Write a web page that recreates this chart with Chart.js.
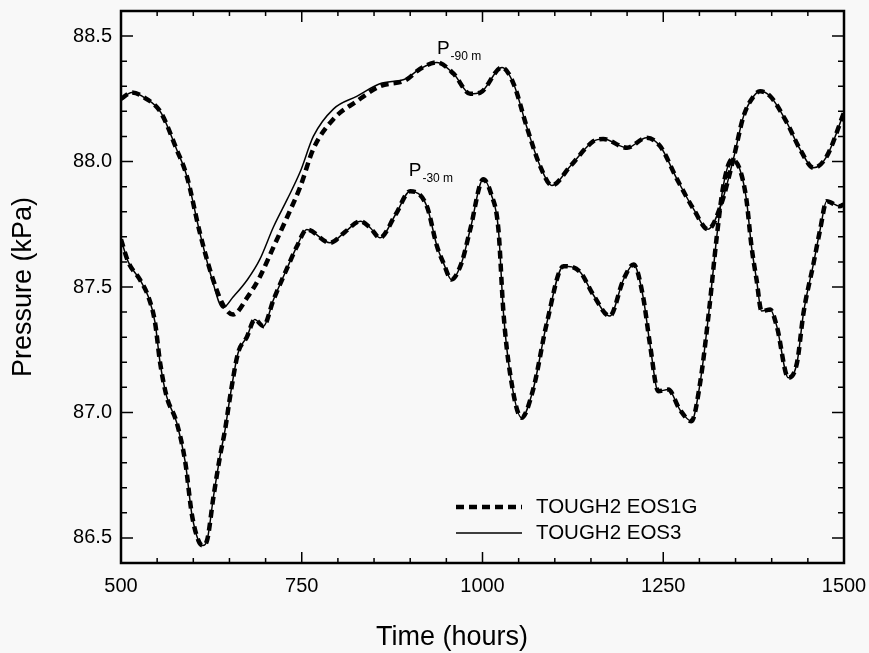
<!DOCTYPE html>
<html>
<head>
    <title>Pressure vs Time</title>
    <script src="https://cdn.jsdelivr.net/npm/chart.js"></script>
    <style>
        body {
            margin: 0;
            background: #f8f8f8;
        }
        canvas {
            display: block;
        }
    </style>
</head>
<body>
    <canvas id="pressureChart" width="869" height="653"></canvas>

    <script>
        // tick labels
        const xTicks = [500, 750, 1000, 1250, 1500];
        const yTicks = [86.5, 87.0, 87.5, 88.0, 88.5];

        // P-90 m (upper pair of curves)
        const tUpper = [500, 515, 535, 555, 577, 591, 609, 625, 641, 655, 675, 692, 711, 730, 748,
            766, 794, 826, 858, 894, 914, 937, 960, 983, 997, 1027, 1043, 1061, 1080, 1096,
            1121, 1153, 1167, 1200, 1227, 1246, 1269, 1292, 1312, 1329, 1347, 1361, 1375, 1384, 1398,
            1421, 1439, 1458, 1476, 1500];
        const pUpperEOS3 = [88.25, 88.275, 88.25, 88.196, 88.048, 87.942, 87.717, 87.54, 87.417, 87.46,
            87.53, 87.61, 87.74, 87.85, 87.96, 88.10, 88.21, 88.26, 88.31, 88.33,
            88.37, 88.395, 88.35, 88.27, 88.275, 88.375, 88.31, 88.14, 87.98, 87.905,
            87.98, 88.08, 88.09, 88.055, 88.095, 88.06, 87.93, 87.81, 87.73, 87.82,
            88.01, 88.18, 88.26, 88.28, 88.26, 88.155, 88.05, 87.975, 88.02, 88.195];
        const pUpperEOS1G = [88.25, 88.275, 88.25, 88.196, 88.048, 87.942, 87.717, 87.55, 87.43, 87.39,
            87.46, 87.54, 87.66, 87.78, 87.90, 88.05, 88.17, 88.24, 88.30, 88.325,
            88.37, 88.395, 88.35, 88.27, 88.275, 88.375, 88.31, 88.14, 87.98, 87.905,
            87.98, 88.08, 88.09, 88.055, 88.095, 88.06, 87.93, 87.81, 87.73, 87.82,
            88.01, 88.18, 88.26, 88.28, 88.26, 88.155, 88.05, 87.975, 88.02, 88.195];

        // P-30 m (lower pair, both models overlap)
        const tLower = [500, 510, 526, 538, 547, 554, 563, 577, 589, 598, 607, 613, 619, 628, 637,
            644, 651, 662, 674, 685, 697, 711, 729, 743, 757, 789, 810, 831, 845, 858,
            880, 900, 923, 937, 946, 957, 971, 983, 1001, 1012, 1022, 1029, 1038, 1054, 1070,
            1089, 1112, 1135, 1153, 1176, 1195, 1209, 1222, 1232, 1243, 1257, 1273, 1289, 1301, 1313,
            1324, 1333, 1345, 1356, 1365, 1372, 1379, 1386, 1398, 1407, 1423, 1435, 1444, 1458, 1467,
            1476, 1494, 1500];
        const pLower = [87.69, 87.60, 87.53, 87.46, 87.36, 87.20, 87.065, 86.96, 86.80, 86.594,
            86.49, 86.47, 86.49, 86.666, 86.826, 86.932, 87.065, 87.238, 87.30, 87.37,
            87.344, 87.45, 87.57, 87.66, 87.729, 87.676, 87.72, 87.762, 87.735, 87.696,
            87.79, 87.882, 87.822, 87.663, 87.596, 87.53, 87.596, 87.729, 87.929, 87.87,
            87.73, 87.397, 87.158, 86.979, 87.091, 87.357, 87.583, 87.56, 87.47, 87.384,
            87.53, 87.59, 87.463, 87.264, 87.085, 87.091, 87.011, 86.965, 87.118, 87.397,
            87.70, 87.902, 88.008, 87.968, 87.849, 87.663, 87.53, 87.404, 87.41, 87.344,
            87.138, 87.198, 87.397, 87.596, 87.729, 87.842, 87.822, 87.83];

        // curve labels: [main, subscript, time, pressure]
        const curveLabels = [
            ['P', '-90 m', 937, 88.427],
            ['P', '-30 m', 898, 87.942]
        ];

        const FONT = "'Liberation Sans', Arial, sans-serif";

        function pairs(ts, ps) {
            return ts.map((t, i) => ({ x: t, y: ps[i] }));
        }

        const solid = { borderColor: '#000', borderWidth: 1.5, pointRadius: 0, cubicInterpolationMode: 'monotone', fill: false };
        const dashed = { borderColor: '#000', borderWidth: 4.5, borderDash: [8, 5], pointRadius: 0, cubicInterpolationMode: 'monotone', fill: false };

        // frame with inward ticks on all four sides
        const framePlugin = {
            id: 'frame',
            afterDraw(chart) {
                const { ctx, chartArea: a, scales: { x, y } } = chart;
                ctx.save();
                ctx.strokeStyle = '#000';
                ctx.lineWidth = 2.5;
                ctx.strokeRect(a.left, a.top, a.right - a.left, a.bottom - a.top);
                ctx.lineWidth = 1.5;
                ctx.beginPath();
                for (let t = 500; t <= 1500; t += 50) {
                    const px = x.getPixelForValue(t);
                    const len = t % 250 === 0 ? 11 : 5;
                    ctx.moveTo(px, a.bottom); ctx.lineTo(px, a.bottom - len);
                    ctx.moveTo(px, a.top); ctx.lineTo(px, a.top + len);
                }
                for (let k = 864; k <= 886; k++) {
                    const py = y.getPixelForValue(k / 10);
                    const len = k % 5 === 0 ? 12 : 6;
                    ctx.moveTo(a.left, py); ctx.lineTo(a.left + len, py);
                    ctx.moveTo(a.right, py); ctx.lineTo(a.right - len, py);
                }
                ctx.stroke();

                // curve labels
                ctx.fillStyle = '#000';
                ctx.textBaseline = 'alphabetic';
                curveLabels.forEach(([main, sub, t, p]) => {
                    const px = x.getPixelForValue(t);
                    const py = y.getPixelForValue(p);
                    ctx.font = '19px ' + FONT;
                    ctx.fillText(main, px, py);
                    const w = ctx.measureText(main).width;
                    ctx.font = '12px ' + FONT;
                    ctx.fillText(sub, px + w + 1, py + 6);
                });

                // legend
                const items = [chart.data.datasets[2], chart.data.datasets[0]];
                items.forEach((ds, i) => {
                    const ly = 507 + i * 26;
                    ctx.beginPath();
                    ctx.lineWidth = ds.borderDash ? 4.5 : 1.5;
                    ctx.setLineDash(ds.borderDash || []);
                    ctx.moveTo(456, ly); ctx.lineTo(522, ly);
                    ctx.stroke();
                    ctx.setLineDash([]);
                    ctx.font = '20.5px ' + FONT;
                    ctx.textBaseline = 'middle';
                    ctx.fillText(ds.label, 536, ly);
                });

                // x axis title
                ctx.font = '27px ' + FONT;
                ctx.textAlign = 'center';
                ctx.textBaseline = 'middle';
                ctx.fillText('Time (hours)', 452, 638);
                ctx.restore();
            }
        };

        const ctx = document.getElementById('pressureChart').getContext('2d');
        new Chart(ctx, {
            type: 'line',
            data: {
                datasets: [
                    { label: 'TOUGH2 EOS3', data: pairs(tUpper, pUpperEOS3), ...solid },
                    { label: 'TOUGH2 EOS3', data: pairs(tLower, pLower), ...solid },
                    { label: 'TOUGH2 EOS1G', data: pairs(tUpper, pUpperEOS1G), ...dashed },
                    { label: 'TOUGH2 EOS1G', data: pairs(tLower, pLower), ...dashed }
                ]
            },
            options: {
                responsive: false,
                animation: false,
                layout: { padding: { left: 0, right: 25, top: 11, bottom: 0 } },
                plugins: { legend: { display: false }, tooltip: { enabled: false } },
                scales: {
                    x: {
                        type: 'linear',
                        min: 500, max: 1500,
                        grid: { display: false, drawTicks: false },
                        border: { display: false },
                        afterBuildTicks: s => { s.ticks = xTicks.map(v => ({ value: v })); },
                        afterFit: s => { s.height = 90; s.paddingLeft = 0; s.paddingRight = 0; },
                        ticks: { color: '#000', padding: 11, maxRotation: 0, font: { family: FONT, size: 20 }, callback: v => String(v) }
                    },
                    y: {
                        min: 86.4, max: 88.6,
                        grid: { display: false, drawTicks: false },
                        border: { display: false },
                        afterBuildTicks: s => { s.ticks = yTicks.map(v => ({ value: v })); },
                        afterFit: s => { s.width = 121; s.paddingTop = 0; s.paddingBottom = 0; },
                        ticks: { color: '#000', padding: 9, font: { family: FONT, size: 20 }, callback: v => v.toFixed(1) },
                        title: { display: true, text: 'Pressure (kPa)', color: '#000', padding: { top: 7 }, font: { family: FONT, size: 27 } }
                    }
                }
            },
            plugins: [framePlugin]
        });
    </script>
</body>
</html>
